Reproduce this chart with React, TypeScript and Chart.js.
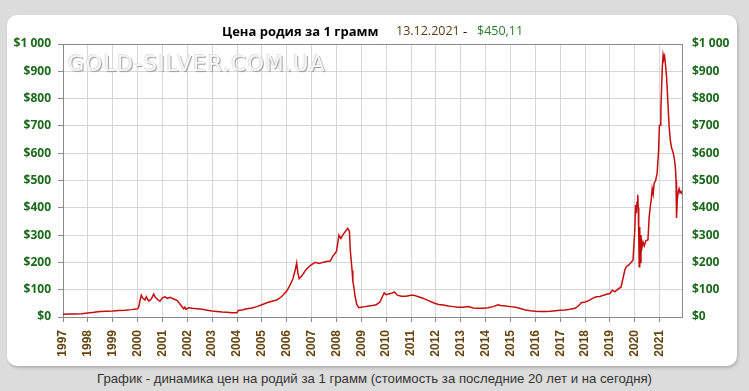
import React, { useEffect, useRef } from "react";
import { Chart, registerables } from "chart.js";

Chart.register(...registerables);

// Decimal year of each observation
const years: number[] = [
  1997.0, 1997.25, 1997.5, 1997.75, 1998.0, 1998.25, 1998.5, 1998.75, 1999.0, 1999.25, 1999.5, 1999.75,
  2000.0, 2000.05, 2000.1, 2000.15, 2000.2, 2000.3, 2000.35, 2000.45, 2000.55, 2000.65, 2000.7, 2000.8, 2000.9,
  2001.0, 2001.1, 2001.2, 2001.3, 2001.45, 2001.6, 2001.75, 2001.85, 2001.9, 2001.95,
  2002.05, 2002.2, 2002.4, 2002.6, 2002.8, 2003.0, 2003.2, 2003.4, 2003.6, 2003.8,
  2004.0, 2004.05, 2004.2, 2004.4, 2004.6, 2004.8, 2005.0, 2005.2, 2005.4, 2005.6, 2005.8,
  2006.0, 2006.15, 2006.25, 2006.35, 2006.4, 2006.45, 2006.5, 2006.6, 2006.75, 2006.9,
  2007.0, 2007.15, 2007.3, 2007.45, 2007.6, 2007.75, 2007.85,
  2008.0, 2008.1, 2008.18, 2008.25, 2008.35, 2008.45, 2008.52, 2008.56, 2008.6, 2008.63, 2008.66, 2008.7, 2008.75, 2008.82, 2008.9,
  2009.0, 2009.15, 2009.3, 2009.45, 2009.6, 2009.75, 2009.85, 2009.92,
  2010.0, 2010.1, 2010.25, 2010.33, 2010.45, 2010.6, 2010.8,
  2011.0, 2011.1, 2011.3, 2011.5, 2011.7, 2011.9,
  2012.1, 2012.3, 2012.5, 2012.7, 2012.9,
  2013.1, 2013.3, 2013.5, 2013.7, 2013.9,
  2014.1, 2014.3, 2014.5, 2014.6, 2014.8,
  2015.0, 2015.2, 2015.4, 2015.6, 2015.8,
  2016.0, 2016.2, 2016.4, 2016.6, 2016.8,
  2017.0, 2017.2, 2017.4, 2017.6, 2017.75, 2017.85,
  2018.0, 2018.15, 2018.3, 2018.45, 2018.6, 2018.75, 2018.9,
  2019.0, 2019.1, 2019.2, 2019.3, 2019.45, 2019.6, 2019.66, 2019.75, 2019.85, 2019.93,
  2020.0, 2020.03, 2020.06, 2020.09, 2020.12, 2020.14, 2020.16, 2020.18, 2020.2, 2020.22, 2020.25, 2020.28,
  2020.33, 2020.38, 2020.45, 2020.53, 2020.58, 2020.62, 2020.66, 2020.7, 2020.74, 2020.78, 2020.84, 2020.9, 2020.96, 2020.99,
  2021.02, 2021.05, 2021.08, 2021.11, 2021.14, 2021.17, 2021.2, 2021.23, 2021.28, 2021.33, 2021.38, 2021.43, 2021.48,
  2021.55, 2021.6, 2021.64, 2021.66, 2021.68, 2021.71, 2021.75, 2021.78, 2021.82, 2021.86, 2021.9,
];

// Price of rhodium, USD per gram
const prices: number[] = [
  10, 11, 11, 12, 15, 17, 20, 21, 22, 24, 25, 27,
  30, 38, 62, 80, 70, 62, 74, 58, 66, 84, 74, 64, 58,
  70, 74, 68, 72, 66, 60, 42, 30, 36, 28,
  34, 32, 30, 28, 25, 22, 20, 18, 17, 16,
  16, 24, 26, 30, 33, 38, 45, 52, 58, 62, 75,
  95, 120, 140, 175, 198, 160, 140, 150, 170, 185,
  192, 200, 196, 200, 203, 205, 222,
  240, 300, 288, 300, 312, 325, 315, 240, 200, 170, 130, 110, 75, 45, 34,
  36, 38, 40, 42, 45, 55, 75, 88,
  82, 84, 88, 92, 80, 76, 76,
  80, 80, 74, 68, 60, 52,
  46, 44, 40, 38, 36,
  36, 38, 33, 32, 32,
  34, 38, 45, 42, 40,
  38, 36, 31, 26, 23,
  21, 20, 20, 21, 23,
  25, 26, 28, 32, 42, 52,
  55, 60, 68, 74, 75, 80, 84,
  86, 98, 92, 100, 110, 172, 184, 190, 200, 209,
  318, 410, 380, 420, 448, 400, 300, 184, 330, 200, 300, 250,
  275, 260, 280, 282, 367, 400, 428, 470, 450, 490, 500, 527, 612, 700,
  703, 760, 840, 920, 960, 945, 955, 930, 880, 790, 700, 648, 620,
  600, 575, 540, 500, 363, 430, 460, 470, 455, 460, 450,
];

const yTickValues: number[] = [0, 100, 200, 300, 400, 500, 600, 700, 800, 900, 1000];
const xStartYear = 1997;
const xEndYear = 2021.9;

const titleMain = "Цена родия за 1 грамм";
const titleDate = "13.12.2021";
const titlePrice = "$450,11";
const footerText = "График - динамика цен на родий за 1 грамм (стоимость за последние 20 лет и на сегодня)";
const watermark = "GOLD-SILVER.COM.UA";

const fmtUsd = (v: number) => (v >= 1000 ? "$1 000" : "$" + v);

export default function App() {
  const ref = useRef<HTMLCanvasElement | null>(null);

  useEffect(() => {
    if (!ref.current) return;
    const points = years.map((x, i) => ({ x, y: prices[i] }));
    const yCommon = (side: "left" | "right", width: number, pad: number) => ({
      type: "linear" as const,
      position: side,
      min: 0,
      max: 1000,
      afterBuildTicks: (s: any) => {
        s.ticks = yTickValues.map((v) => ({ value: v }));
      },
      afterFit: (s: any) => {
        s.width = width;
        s.paddingTop = 0;
        s.paddingBottom = 0;
      },
      grid: {
        display: side === "left",
        color: "#d6d6d6",
        tickColor: "#8a8a8a",
        tickLength: 5,
        drawOnChartArea: side === "left",
      },
      border: { color: "#8a8a8a" },
      ticks: {
        padding: pad,
        color: "#1c691c",
        font: { family: "'Open Sans'", size: 12, weight: "bold" },
        callback: (v: any) => fmtUsd(Number(v)),
      },
    });
    const topBorder = {
      id: "topBorder",
      beforeDatasetsDraw(chart: any) {
        const { ctx, chartArea } = chart;
        ctx.save();
        ctx.strokeStyle = "#8a8a8a";
        ctx.lineWidth = 1;
        ctx.beginPath();
        ctx.moveTo(chartArea.left, chartArea.top + 0.5);
        ctx.lineTo(chartArea.right, chartArea.top + 0.5);
        ctx.stroke();
        ctx.restore();
      },
    };
    const chart = new Chart(ref.current, {
      type: "line",
      data: {
        datasets: [
          {
            data: points,
            borderColor: "#c40d0d",
            borderWidth: 1.5,
            pointRadius: 0,
            tension: 0,
            fill: false,
          },
        ],
      },
      options: {
        animation: false,
        responsive: false,
        layout: { padding: { left: 0, right: 0, top: 44, bottom: 0 } },
        plugins: { legend: { display: false }, tooltip: { enabled: false }, title: { display: false } },
        scales: {
          x: {
            type: "linear",
            min: xStartYear,
            max: xEndYear,
            afterBuildTicks: (s: any) => {
              const t: any[] = [];
              for (let y = xStartYear; y <= Math.floor(xEndYear); y++) t.push({ value: y });
              s.ticks = t;
            },
            afterFit: (s: any) => {
              s.height = 48;
              s.paddingLeft = 0;
              s.paddingRight = 0;
            },
            grid: { color: "#d6d6d6", tickColor: "#8a8a8a", tickLength: 5 },
            border: { color: "#8a8a8a" },
            ticks: {
              autoSkip: false,
              maxRotation: 90,
              minRotation: 90,
              padding: 8,
              color: "#65430f",
              font: { family: "'Liberation Sans'", size: 12, weight: "bold" },
              callback: (v: any) => String(v),
            },
          },
          y: yCommon("left", 63, 7),
          y2: yCommon("right", 67, 5),
        },
      },
      plugins: [topBorder],
    } as any);
    return () => chart.destroy();
  }, []);

  return (
    <div
      style={{
        position: "fixed",
        left: 0,
        top: 0,
        width: 749,
        height: 391,
        background: "#dcdcdc",
        overflow: "hidden",
      }}
    >
      <div
        style={{
          position: "absolute",
          left: 7,
          top: 15,
          width: 730,
          height: 351,
          background: "#ffffff",
          borderRadius: 10,
          boxShadow: "1px 2px 3px #b0b0b0",
        }}
      />
      <canvas
        ref={ref}
        width={749}
        height={365}
        style={{ position: "absolute", left: 0, top: 0, width: 749, height: 365 }}
      />
      <div
        style={{
          position: "absolute",
          left: 68,
          top: 52,
          fontFamily: "'DejaVu Sans'",
          fontSize: 21,
          letterSpacing: 1.5,
          color: "#f7f7f7",
          textShadow: "1px 1px 1px #9a9a9a, -1px -1px 0 #e2e2e2",
          whiteSpace: "nowrap",
          pointerEvents: "none",
        }}
      >
        {watermark}
      </div>
      <div
        style={{
          position: "absolute",
          left: 0,
          top: 22,
          width: 749,
          height: 20,
          fontFamily: "'Open Sans'",
          fontSize: 13,
          lineHeight: "18px",
          whiteSpace: "nowrap",
        }}
      >
        <span style={{ position: "absolute", left: 222, fontWeight: "bold", color: "#000" }}>{titleMain}</span>
        <span style={{ position: "absolute", left: 396, fontSize: 12.5, color: "#5a3a12" }}>{titleDate}</span>
        <span style={{ position: "absolute", left: 463, color: "#000" }}>-</span>
        <span style={{ position: "absolute", left: 477, fontSize: 12.5, color: "#2a7a2a" }}>{titlePrice}</span>
      </div>
      <div
        style={{
          position: "absolute",
          left: 0,
          top: 371,
          width: 749,
          textAlign: "center",
          fontFamily: "'Liberation Sans'",
          fontSize: 13.2,
          color: "#333",
          whiteSpace: "nowrap",
        }}
      >
        {footerText}
      </div>
    </div>
  );
}
